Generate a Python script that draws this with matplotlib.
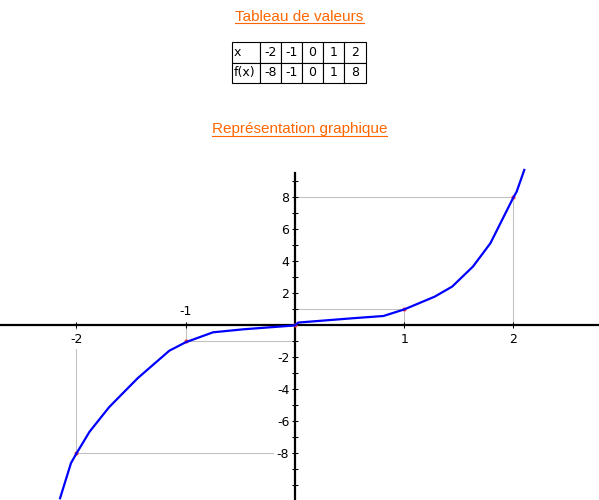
import matplotlib
matplotlib.use("Agg")
import matplotlib.pyplot as plt
from matplotlib.lines import Line2D

plt.rcParams['font.family'] = ['Liberation Sans', 'DejaVu Sans']

# table values
x_vals = [-2, -1, 0, 1, 2]
fx_vals = [-8, -1, 0, 1, 8]

# curve as drawn (polyline)
curve_x = [-2.15, -2.05, -2.0, -1.88, -1.70, -1.44, -1.15, -1.0, -0.75, -0.47,
           0.0, 0.03, 0.53, 0.81, 1.0, 1.28, 1.44, 1.63, 1.79, 2.0, 2.03, 2.10]
curve_y = [-10.8, -8.6, -8.0, -6.64, -5.1, -3.3, -1.58, -1.05, -0.43, -0.24,
           0.0, 0.18, 0.45, 0.59, 1.0, 1.8, 2.43, 3.68, 5.14, 8.0, 8.36, 9.72]

y_ticks = list(range(-10, 10))
y_labels = [-8, -6, -4, -2, 2, 4, 6, 8]
x_labels_below = [-2, 1, 2]
x_labels_above = [-1]

orange = '#ff6600'
W, H = 599, 500
small = dict(family='DejaVu Sans', size=9)

fig = plt.figure(figsize=(W / 100, H / 100), dpi=100, facecolor='white')


def title(txt, baseline_px):
    yf = 1 - baseline_px / H
    t = fig.text(0.5, yf, txt, ha='center', va='baseline', color=orange, fontsize=11)
    fig.canvas.draw()
    bb = t.get_window_extent()
    uy = (yf * H - 2.5) / H
    fig.add_artist(Line2D([bb.x0 / W, bb.x1 / W], [uy, uy], color=orange, lw=0.8))


title('Tableau de valeurs', 20.7)
title('Représentation graphique', 133.3)

# table of values
tax = fig.add_axes([232 / W, 1 - 83 / H, 134 / W, 41 / H])
tax.axis('off')
cells = [['x'] + [str(v) for v in x_vals], ['f(x)'] + [str(v) for v in fx_vals]]
widths = [28, 21, 21, 21, 21, 22]
tab = tax.table(cellText=cells, bbox=[0, 0, 1, 1], cellLoc='center',
                colWidths=[w / sum(widths) for w in widths])
tab.auto_set_font_size(False)
for (r, c), cell in tab.get_celld().items():
    cell.set_linewidth(0.8)
    cell.set_edgecolor('black')
    cell.get_text().set_fontproperties(small)
    if c == 0:
        cell.get_text().set_ha('left')
        cell.PAD = 0.05

# graph
ax = fig.add_axes([0, 0, 1, 332 / H])
ax.set_xlim(-2.70, 2.784)
ax.set_ylim(-10.91, 9.84)
ax.patch.set_alpha(0)

for s in ['top', 'right']:
    ax.spines[s].set_visible(False)
ax.spines['left'].set_position(('data', 0))
ax.spines['bottom'].set_position(('data', 0))
ax.spines['left'].set_bounds(-11, 9.5)
for s in ['left', 'bottom']:
    ax.spines[s].set_linewidth(1.6)

ax.set_xticks(x_labels_below + x_labels_above)
ax.set_xticklabels([str(v) for v in x_labels_below] + ['' for v in x_labels_above])
ax.set_yticks(y_ticks)
ax.set_yticklabels([str(v) if v in y_labels else '' for v in y_ticks])
ax.tick_params(direction='inout', length=5, width=0.75)
ax.tick_params(axis='x', pad=3.0)
ax.tick_params(axis='y', pad=1.5)
for lab in ax.get_xticklabels() + ax.get_yticklabels():
    lab.set_fontproperties(small)
    lab.set_bbox(dict(facecolor='white', edgecolor='none', pad=2))

for v in x_labels_above:
    ax.annotate(str(v), xy=(v, 0), xytext=(0, 5.2), textcoords='offset points',
                ha='center', va='bottom', fontproperties=small)

# guide lines from table points to the axes
for xv, fv in zip(x_vals, fx_vals):
    if xv == 0:
        continue
    ax.plot([0, xv], [fv, fv], color='#c0c0c0', lw=0.75, zorder=1)
    ax.plot([xv, xv], [0, fv], color='#c0c0c0', lw=0.75, zorder=1)

ax.plot(x_vals, fx_vals, 'o', color='#ff4040', ms=2, zorder=2.8)
ax.plot(curve_x, curve_y, color='#0000ff', lw=1.6, zorder=3, clip_on=False)

fig.savefig('out.png', dpi=100)
